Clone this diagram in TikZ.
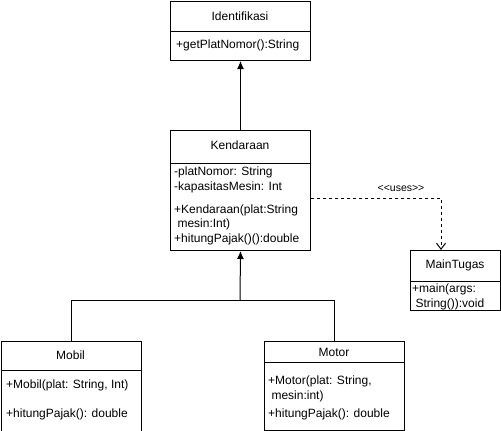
\documentclass[tikz,border=0pt]{standalone}
\usepackage{fontspec}
\setmainfont{Liberation Sans}
\usetikzlibrary{arrows.meta}
\tikzset{
  cls/.style={draw, line width=1pt, inner sep=0pt, anchor=north west, fill=white},
  ttl/.style={inner sep=0pt, anchor=center, font=\fontsize{12}{14}\selectfont},
  mem/.style={inner sep=0pt, anchor=west, font=\fontsize{12}{14}\selectfont},
  divline/.style={line width=1pt},
  genarrow/.style={line width=1pt, -{Latex[length=8pt,width=7pt]}},
  genline/.style={line width=1pt},
  usesline/.style={line width=1pt, dash pattern=on 3pt off 3pt, -{Straight Barb[length=6pt,width=9pt]}},
  lbl/.style={inner sep=0pt, font=\fontsize{10.5}{12}\selectfont}
}
\begin{document}
\begin{tikzpicture}[x=1pt,y=-1pt]
\useasboundingbox (0,0) rectangle (501,431);
% boxes
\node[cls, minimum width=140pt, minimum height=59pt] (ident) at (170,1) {};
\node[cls, minimum width=140pt, minimum height=120pt] (kend) at (170,130) {};
\node[cls, minimum width=90pt, minimum height=60pt] (main) at (410,250) {};
\node[cls, minimum width=140pt, minimum height=90pt] (mobil) at (0.5,340.5) {};
\node[cls, minimum width=140pt, minimum height=89pt] (motor) at (264,341) {};
% dividers
\draw[divline] ([yshift=-30pt]ident.north west) -- ([yshift=-30pt]ident.north east);
\draw[divline] ([yshift=-33pt]kend.north west) -- ([yshift=-33pt]kend.north east);
\draw[divline] ([yshift=-31pt]main.north west) -- ([yshift=-31pt]main.north east);
\draw[divline] ([yshift=-29.5pt]mobil.north west) -- ([yshift=-29.5pt]mobil.north east);
\draw[divline] ([yshift=-21pt]motor.north west) -- ([yshift=-21pt]motor.north east);
% texts
\node[ttl] (identT) at (240,16) {Identifikasi};
\node[mem] (identM) at (176,45) {+getPlatNomor():String};
\node[ttl] (kendT) at (240,145) {Kendaraan};
\node[mem] (kendA1) at (174,172.5) {-platNomor: String};
\node[mem] (kendA2) at (174,187) {-kapasitasMesin: Int};
\node[mem] (kendM1) at (174,210.5) {+Kendaraan(plat:String};
\node[mem] (kendM2) at (174,224.5) {\ mesin:Int)};
\node[mem] (kendM3) at (174,239) {+hitungPajak()():double};
\node[ttl] (mainT) at (455,265.5) {MainTugas};
\node[mem] (mainM1) at (412,289.5) {+main(args:};
\node[mem] (mainM2) at (412,304.5) {\ String()):void};
\node[ttl] (mobilT) at (70.5,355) {Mobil};
\node[mem] (mobilM1) at (6,385.5) {+Mobil(plat: String, Int)};
\node[mem] (mobilM2) at (6,414.5) {+hitungPajak(): double};
\node[ttl] (motorT) at (334,352) {Motor};
\node[mem] (motorM1) at (268,381.5) {+Motor(plat: String,};
\node[mem] (motorM2) at (268,396) {\ mesin:int)};
\node[mem] (motorM3) at (268,414.5) {+hitungPajak(): double};
% connectors
\draw[genarrow] (kend.north) -- (ident.south);
\coordinate (junc) at (240,300.5);
\draw[genline] (mobil.north) |- (junc) -| (motor.north);
\draw[genarrow] (junc) -- (kend.south);
\draw[usesline] ([yshift=-7.5pt]kend.east) -| ([xshift=-14.5pt]main.north);
\node[lbl] (usesL) at (401,188) {{<}{<}uses{>}{>}};
\end{tikzpicture}
\end{document}
